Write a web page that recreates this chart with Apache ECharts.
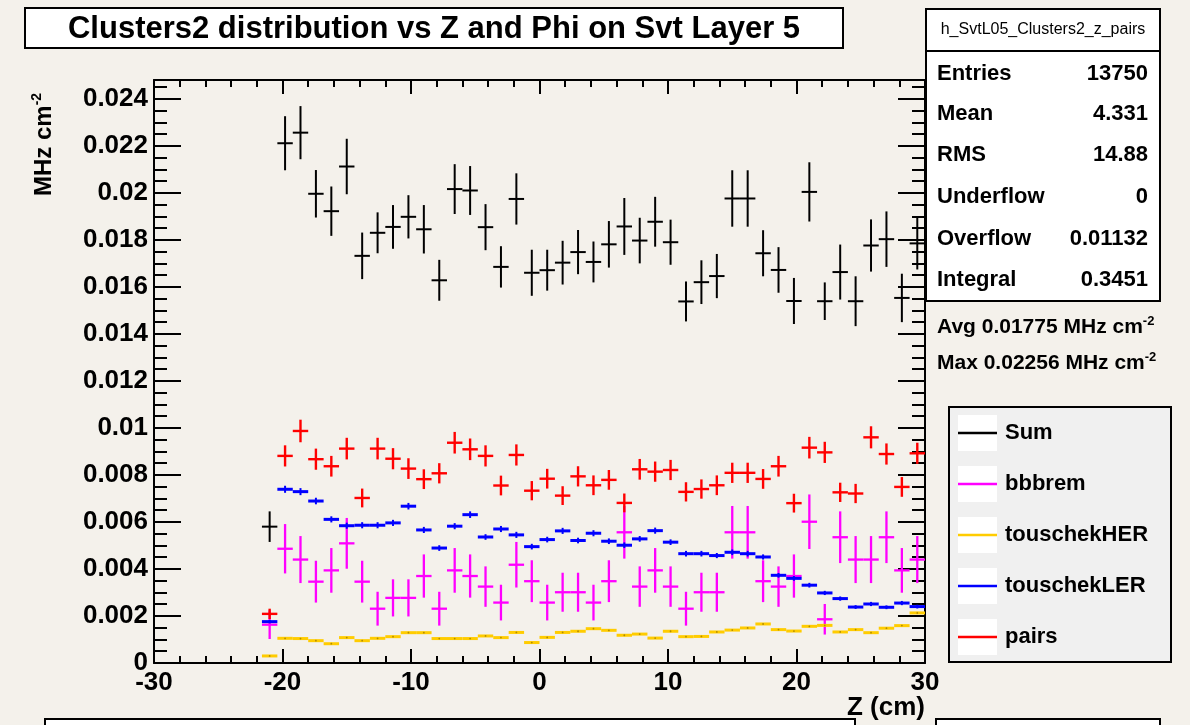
<!DOCTYPE html>
<html>
<head>
<meta charset="utf-8">
<title>Clusters2 distribution vs Z and Phi on Svt Layer 5</title>
<script src="https://cdn.jsdelivr.net/npm/echarts/dist/echarts.min.js"></script>
<style>
  html, body { margin: 0; padding: 0; background: #f4f1eb; }
  #chart { width: 1190px; height: 725px; }
</style>
</head>
<body>
<div id="chart"></div>
<script>
// Histogram bin centres along Z (cm), 1.2 cm bins
const zCenters = [-21.0, -19.8, -18.6, -17.4, -16.2, -15.0, -13.8, -12.6, -11.4, -10.2,
  -9.0, -7.8, -6.6, -5.4, -4.2, -3.0, -1.8, -0.6, 0.6, 1.8,
  3.0, 4.2, 5.4, 6.6, 7.8, 9.0, 10.2, 11.4, 12.6, 13.8,
  15.0, 16.2, 17.4, 18.6, 19.8, 21.0, 22.2, 23.4, 24.6, 25.8,
  27.0, 28.2, 29.4];

// Rates in MHz cm^-2 per bin, with their uncertainties
const sumRate = [0.0058, 0.02211, 0.02256, 0.01996, 0.01922, 0.02112, 0.01732, 0.01830, 0.01855, 0.01898,
  0.01845, 0.01628, 0.02016, 0.02010, 0.01854, 0.01685, 0.01974, 0.01660, 0.01671, 0.01703,
  0.01748, 0.01706, 0.01781, 0.01857, 0.01797, 0.01877, 0.01790, 0.01538, 0.01620, 0.01646,
  0.01976, 0.01976, 0.01743, 0.01672, 0.01540, 0.02004, 0.01539, 0.01663, 0.01539, 0.01776,
  0.01803, 0.01553, 0.01785];
const sumErr = [0.00065, 0.00115, 0.00113, 0.00101, 0.00105, 0.00118, 0.00099, 0.00087, 0.00093, 0.00092,
  0.00103, 0.00087, 0.00106, 0.00104, 0.00098, 0.00088, 0.00109, 0.00098, 0.00087, 0.00093,
  0.00094, 0.00087, 0.00099, 0.00121, 0.00097, 0.00106, 0.00096, 0.00085, 0.00093, 0.00094,
  0.00120, 0.00120, 0.00098, 0.00097, 0.00098, 0.00126, 0.00080, 0.00117, 0.00106, 0.00111,
  0.00118, 0.00103, 0.00111];

const bbbremRate = [0.00163, 0.00486, 0.00440, 0.00346, 0.00394, 0.00509, 0.00346, 0.00231, 0.00277, 0.00277,
  0.00370, 0.00231, 0.00394, 0.00370, 0.00325, 0.00257, 0.00418, 0.00348, 0.00257, 0.00301,
  0.00301, 0.00257, 0.00348, 0.00556, 0.00325, 0.00394, 0.00325, 0.00231, 0.00301, 0.00301,
  0.00556, 0.00556, 0.00348, 0.00325, 0.00370, 0.00601, 0.00186, 0.00535, 0.00440, 0.00440,
  0.00535, 0.00394, 0.00440];
const bbbremErr = [0.00061, 0.00105, 0.00100, 0.00089, 0.00095, 0.00108, 0.00089, 0.00072, 0.00079, 0.00079,
  0.00092, 0.00072, 0.00095, 0.00092, 0.00086, 0.00076, 0.00097, 0.00089, 0.00076, 0.00083,
  0.00083, 0.00076, 0.00089, 0.00112, 0.00086, 0.00095, 0.00086, 0.00072, 0.00083, 0.00083,
  0.00112, 0.00112, 0.00089, 0.00086, 0.00092, 0.00116, 0.00065, 0.00110, 0.00100, 0.00100,
  0.00110, 0.00095, 0.00100];

const touschekHERRate = [0.00030, 0.00105, 0.00104, 0.00095, 0.00082, 0.00108, 0.00095, 0.00105, 0.00112, 0.00129,
  0.00129, 0.00104, 0.00104, 0.00104, 0.00115, 0.00108, 0.00130, 0.00087, 0.00109, 0.00130,
  0.00135, 0.00146, 0.00139, 0.00118, 0.00123, 0.00106, 0.00135, 0.00112, 0.00113, 0.00132,
  0.00140, 0.00149, 0.00166, 0.00142, 0.00136, 0.00156, 0.00160, 0.00132, 0.00142, 0.00129,
  0.00148, 0.00159, 0.00213];
const touschekHERErr = [0.00002, 0.00004, 0.00004, 0.00004, 0.00004, 0.00004, 0.00004, 0.00004, 0.00004, 0.00004,
  0.00004, 0.00004, 0.00004, 0.00004, 0.00004, 0.00004, 0.00004, 0.00004, 0.00004, 0.00004,
  0.00004, 0.00004, 0.00004, 0.00004, 0.00004, 0.00004, 0.00004, 0.00004, 0.00004, 0.00004,
  0.00004, 0.00004, 0.00004, 0.00004, 0.00004, 0.00004, 0.00004, 0.00004, 0.00004, 0.00004,
  0.00004, 0.00004, 0.00005];

const touschekLERRate = [0.00176, 0.00739, 0.00729, 0.00689, 0.00611, 0.00584, 0.00586, 0.00586, 0.00596, 0.00667,
  0.00566, 0.00489, 0.00582, 0.00631, 0.00536, 0.00570, 0.00545, 0.00495, 0.00525, 0.00562,
  0.00521, 0.00552, 0.00518, 0.00501, 0.00528, 0.00563, 0.00514, 0.00465, 0.00465, 0.00457,
  0.00471, 0.00465, 0.00451, 0.00373, 0.00360, 0.00331, 0.00298, 0.00274, 0.00238, 0.00251,
  0.00237, 0.00255, 0.00240];
const touschekLERErr = [0.00007, 0.00015, 0.00015, 0.00014, 0.00013, 0.00013, 0.00013, 0.00013, 0.00013, 0.00014,
  0.00013, 0.00012, 0.00013, 0.00014, 0.00012, 0.00013, 0.00013, 0.00012, 0.00012, 0.00013,
  0.00012, 0.00013, 0.00012, 0.00012, 0.00012, 0.00013, 0.00012, 0.00012, 0.00012, 0.00011,
  0.00012, 0.00012, 0.00011, 0.00010, 0.00010, 0.00010, 0.00009, 0.00009, 0.00008, 0.00009,
  0.00008, 0.00009, 0.00008];

const pairsRate = [0.00209, 0.00881, 0.00987, 0.00867, 0.00837, 0.00912, 0.00702, 0.00912, 0.00869, 0.00827,
  0.00782, 0.00807, 0.00937, 0.00909, 0.00881, 0.00755, 0.00885, 0.00733, 0.00784, 0.00712,
  0.00794, 0.00756, 0.00779, 0.00681, 0.00824, 0.00814, 0.00821, 0.00728, 0.00740, 0.00756,
  0.00809, 0.00809, 0.00783, 0.00837, 0.00680, 0.00916, 0.00896, 0.00726, 0.00721, 0.00960,
  0.00889, 0.00749, 0.00892];
const pairsErr = [0.00022, 0.00045, 0.00048, 0.00045, 0.00044, 0.00046, 0.00040, 0.00046, 0.00045, 0.00044,
  0.00042, 0.00043, 0.00046, 0.00046, 0.00045, 0.00042, 0.00045, 0.00041, 0.00042, 0.00040,
  0.00043, 0.00042, 0.00042, 0.00040, 0.00044, 0.00043, 0.00043, 0.00041, 0.00041, 0.00042,
  0.00043, 0.00043, 0.00042, 0.00044, 0.00040, 0.00046, 0.00045, 0.00041, 0.00041, 0.00047,
  0.00045, 0.00042, 0.00045];

const seriesNames = ['Sum', 'bbbrem', 'touschekHER', 'touschekLER', 'pairs'];
const seriesRates = [sumRate, bbbremRate, touschekHERRate, touschekLERRate, pairsRate];
const seriesErrs = [sumErr, bbbremErr, touschekHERErr, touschekLERErr, pairsErr];

// Statistics panel
const histName = 'h_SvtL05_Clusters2_z_pairs';
const statLabels = ['Entries', 'Mean', 'RMS', 'Underflow', 'Overflow', 'Integral'];
const statValues = ['13750', '4.331', '14.88', '0', '0.01132', '0.3451'];
const avgText = 'Avg 0.01775 MHz cm';
const maxText = 'Max 0.02256 MHz cm';

const titleText = 'Clusters2 distribution vs Z and Phi on Svt Layer 5';
const xTitle = 'Z (cm)';
const yTitle = 'MHz cm';

// ---- styling ----
const FONT = 'Liberation Sans, Arial, Helvetica, sans-serif';
const styles = [
  { color: '#000000', hw: 2, vw: 2 },
  { color: '#ff00ff', hw: 2.3, vw: 2.3 },
  { color: '#ffcc00', hw: 3, vw: 2, dot: '#b08a00' },
  { color: '#0000ff', hw: 3, vw: 2 },
  { color: '#ff0000', hw: 2.4, vw: 2.4 }
];
const BIN_HALF = 0.6;
const X_MIN = -30, X_MAX = 30;
const Y_MIN = 0, Y_MAX = 0.0248;

function crossRenderer(st) {
  return function (params, api) {
    const z = api.value(0), v = api.value(1), e = api.value(2);
    const l = api.coord([z - BIN_HALF, v]);
    const r = api.coord([z + BIN_HALF, v]);
    const t = api.coord([z, Math.min(v + e, Y_MAX)]);
    const b = api.coord([z, Math.max(v - e, Y_MIN)]);
    const children = [
      { type: 'line', shape: { x1: l[0], y1: l[1], x2: r[0], y2: r[1] },
        style: { stroke: st.color, lineWidth: st.hw } },
      { type: 'line', shape: { x1: t[0], y1: t[1], x2: b[0], y2: b[1] },
        style: { stroke: st.color, lineWidth: st.vw } }
    ];
    if (st.dot) {
      const c = api.coord([z, v]);
      children.push({ type: 'circle', shape: { cx: c[0], cy: c[1], r: 0.9 },
        style: { fill: st.dot } });
    }
    return { type: 'group', children: children };
  };
}

const series = seriesNames.map(function (name, k) {
  return {
    name: name,
    type: 'custom',
    xAxisIndex: 0,
    yAxisIndex: 0,
    clip: true,
    renderItem: crossRenderer(styles[k]),
    encode: { x: 0, y: 1 },
    data: zCenters.map(function (z, i) { return [z, seriesRates[k][i], seriesErrs[k][i]]; }),
    z: 2 + k,
    silent: true
  };
});

const axisLineStyle = { show: true, lineStyle: { color: '#000', width: 2 } };
const labelStyle = { fontFamily: FONT, fontWeight: 'bold', fontSize: 26, color: '#000' };

function xAxisDef(pos, showLabel) {
  return {
    type: 'value', position: pos, min: X_MIN, max: X_MAX, interval: 10,
    axisLine: Object.assign({ onZero: false }, axisLineStyle),
    axisTick: { show: true, inside: true, length: 14, lineStyle: { color: '#000', width: 2 } },
    minorTick: { show: true, splitNumber: 5, length: 7, lineStyle: { color: '#000', width: 2 } },
    splitLine: { show: false },
    axisLabel: Object.assign({ show: showLabel, margin: 7 }, labelStyle)
  };
}
function yAxisDef(pos, showLabel) {
  return {
    type: 'value', position: pos, min: Y_MIN, max: Y_MAX, interval: 0.002,
    axisLine: Object.assign({ onZero: false }, axisLineStyle),
    axisTick: { show: true, inside: true, length: 27, lineStyle: { color: '#000', width: 2 } },
    minorTick: { show: true, splitNumber: 4, length: 13, lineStyle: { color: '#000', width: 2 } },
    splitLine: { show: false },
    axisLabel: Object.assign({ show: showLabel, margin: 6, showMaxLabel: false }, labelStyle)
  };
}

// ---- decorations: title, stats panel, legend, axis titles ----
const graphics = [];

// title box
graphics.push({ type: 'rect', shape: { x: 25, y: 8, width: 818, height: 40 },
  style: { fill: '#ffffff', stroke: '#000', lineWidth: 2 }, z: 10 });
graphics.push({ type: 'text', x: 434, y: 29, z: 11,
  style: { text: titleText, font: 'bold 31px ' + FONT, fill: '#000', align: 'center', verticalAlign: 'middle' } });

// stats panel
graphics.push({ type: 'rect', shape: { x: 926, y: 9, width: 234, height: 292 },
  style: { fill: '#ffffff', stroke: '#000', lineWidth: 2 }, z: 10 });
graphics.push({ type: 'line', shape: { x1: 926, y1: 51, x2: 1160, y2: 51 },
  style: { stroke: '#000', lineWidth: 2 }, z: 11 });
graphics.push({ type: 'text', x: 1043, y: 30, z: 11,
  style: { text: histName, font: '16px ' + FONT, fill: '#000', align: 'center', verticalAlign: 'middle' } });
const statRowY = [74, 114, 155, 197, 239, 280];
statLabels.forEach(function (lab, i) {
  graphics.push({ type: 'text', x: 937, y: statRowY[i], z: 11,
    style: { text: lab, font: 'bold 22px ' + FONT, fill: '#000', align: 'left', verticalAlign: 'middle' } });
  graphics.push({ type: 'text', x: 1148, y: statRowY[i], z: 11,
    style: { text: statValues[i], font: 'bold 22px ' + FONT, fill: '#000', align: 'right', verticalAlign: 'middle' } });
});

// Avg / Max lines with superscript unit
function supText(str, x, y, size, supSize, extra) {
  return Object.assign({ type: 'text', x: x, y: y, z: 11,
    style: {
      text: '{a|' + str + '}{s|-2}',
      align: 'left', verticalAlign: 'middle',
      rich: {
        a: { fontFamily: FONT, fontWeight: 'bold', fontSize: size, fill: '#000', color: '#000', lineHeight: size + 4, verticalAlign: 'middle' },
        s: { fontFamily: FONT, fontWeight: 'bold', fontSize: supSize, fill: '#000', color: '#000', lineHeight: size + 4, verticalAlign: 'top' }
      }
    } }, extra || {});
}
graphics.push(supText(avgText, 937, 327, 21, 13));
graphics.push(supText(maxText, 937, 363, 21, 13));

// legend box
graphics.push({ type: 'rect', shape: { x: 949, y: 407, width: 222, height: 255 },
  style: { fill: '#f0f0f0', stroke: '#000', lineWidth: 2 }, z: 10 });
seriesNames.forEach(function (name, k) {
  const cy = 433 + k * 51;
  graphics.push({ type: 'rect', shape: { x: 958, y: cy - 18, width: 39, height: 36 },
    style: { fill: '#ffffff' }, z: 11 });
  graphics.push({ type: 'line', shape: { x1: 958, y1: cy, x2: 997, y2: cy },
    style: { stroke: styles[k].color, lineWidth: 2.5 }, z: 12 });
  graphics.push({ type: 'text', x: 1005, y: cy, z: 12,
    style: { text: name, font: 'bold 22px ' + FONT, fill: '#000', align: 'left', verticalAlign: 'middle' } });
});

// axis titles
graphics.push({ type: 'text', x: 925, y: 708, z: 11,
  style: { text: xTitle, font: 'bold 26px ' + FONT, fill: '#000', align: 'right', verticalAlign: 'middle' } });
graphics.push(supText(yTitle, 0, 0, 24, 14, { x: 44, y: 196, rotation: Math.PI / 2 }));

// boxes peeking in at the bottom edge
graphics.push({ type: 'rect', shape: { x: 45, y: 719, width: 810, height: 30 },
  style: { fill: '#ffffff', stroke: '#000', lineWidth: 2 }, z: 10 });
graphics.push({ type: 'rect', shape: { x: 936, y: 719, width: 224, height: 30 },
  style: { fill: '#ffffff', stroke: '#000', lineWidth: 2 }, z: 10 });

const chart = echarts.init(document.getElementById('chart'), null, { renderer: 'canvas' });
chart.setOption({
  backgroundColor: '#f4f1eb',
  animation: false,
  grid: { left: 154, right: 265, top: 80, bottom: 62, containLabel: false },
  xAxis: [xAxisDef('bottom', true), xAxisDef('top', false)],
  yAxis: [yAxisDef('left', true), yAxisDef('right', false)],
  series: series,
  graphic: graphics
});
</script>
</body>
</html>
